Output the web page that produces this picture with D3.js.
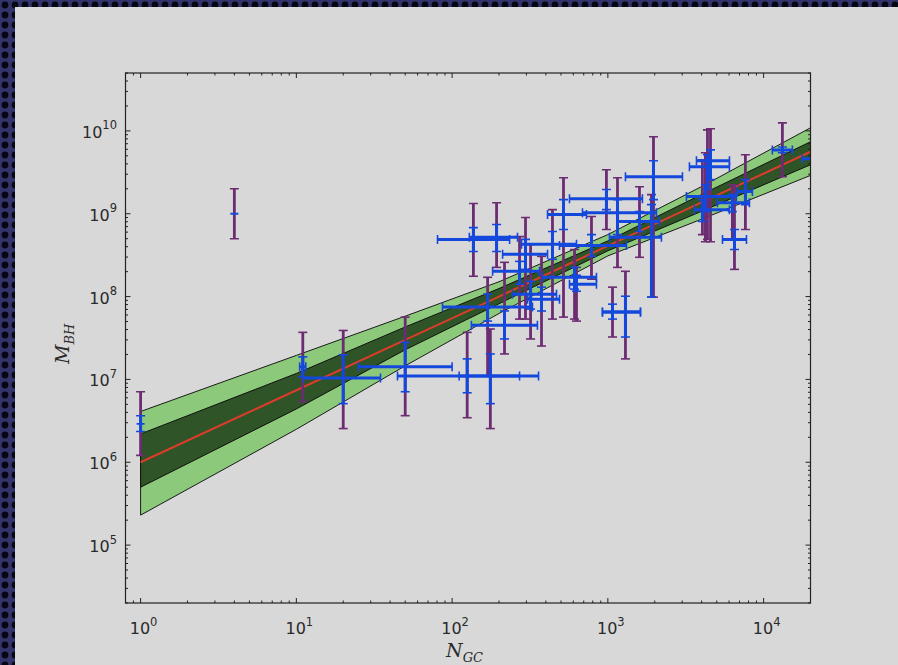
<!DOCTYPE html>
<html><head><meta charset="utf-8">
<script src="https://cdn.jsdelivr.net/npm/d3@7"></script>
<style>html,body{margin:0;padding:0;background:#22224a;} svg{display:block}</style>
</head><body><svg id="c" width="898" height="665"></svg>
<script>
// ---- data ----
const ngc     = [1, 4, 11, 20, 50, 125, 176, 137, 193, 169, 217, 319, 296, 271, 375, 441, 519, 611, 785, 979, 1153, 1071, 1297, 1905, 1963, 1596, 4560, 4360, 4230, 4047, 6500, 7640, 6300, 13200, 19100, 629];
const ngcLo   = [1, 4, 10.5, 11.1, 25, 44.6, 111, 80.6, 129, 86.8, 133, 244, 211, 182, 305, 279, 410, 380, 489, 567, 687, 923, 923, 1024, 1297, 1153, 3706, 3340, 3195, 3597, 5445, 6790, 5050, 11380, 17700, 567];
const ngcHi   = [1, 4, 11.5, 34.7, 100, 271, 359, 234, 263, 328, 353, 468, 410, 364, 489, 629, 729, 845, 1316, 1667, 2051, 1620, 1620, 2208, 3013, 2144, 6035, 6035, 6686, 6035, 7762, 8470, 8110, 15300, 26400, 845];
const mbh     = [2.9e6, 1.0e9, 1.42e7, 1.04e7, 1.42e7, 1.1e7, 1.1e7, 4.9e8, 5.2e8, 7.5e7, 4.5e7, 1.07e8, 3.24e8, 2.02e8, 9.3e7, 4.27e8, 9.8e8, 1.71e8, 4.15e8, 1.52e9, 1.03e9, 6.5e7, 6.5e7, 5.2e8, 2.8e9, 8.06e8, 4.36e9, 3.69e9, 1.61e9, 1.12e9, 4.9e8, 1.85e9, 1.36e9, 5.9e9, 4.6e9, 1.41e8];
const mbhLoIn = [2.35e6, 1.0e9, 1.07e7, 5.1e6, 7.1e6, 6.9e6, 5.1e6, 3.5e8, 3.5e8, 5.06e7, 3.08e7, 7.06e7, 2.13e8, 1.41e8, 6.7e7, 2.82e8, 6.46e8, 1.23e8, 3.06e8, 1.12e9, 5.6e8, 5.35e7, 3.25e7, 9.84e7, 1.48e9, 6.1e8, 2.58e9, 1.96e9, 1.06e9, 8.06e8, 3.7e8, 1.29e9, 1.06e9, 5.45e9, 4.6e9, 1.16e8];
const mbhHiIn = [3.65e6, 1.0e9, 1.87e7, 1.98e7, 2.8e7, 1.77e7, 2.03e7, 6.8e8, 7.4e8, 1.07e8, 6.7e7, 1.53e8, 4.9e8, 2.66e8, 1.3e8, 6.1e8, 1.48e9, 2.25e8, 5.6e8, 1.96e9, 1.48e9, 8.1e7, 1.01e8, 1.29e9, 4.36e9, 1.06e9, 5.9e9, 5.15e9, 2.24e9, 1.48e9, 6.46e8, 2.58e9, 1.7e9, 6.4e9, 4.6e9, 1.81e8];
const mbhLoOut = [1.21e6, 5.0e8, 5.4e6, 2.55e6, 3.65e6, 3.45e6, 2.55e6, 1.76e8, 2.25e8, 1.1e7, 2.03e7, 3.08e7, 5.35e7, 5.35e7, 2.53e7, 5.35e7, 5.65e7, 5.35e7, 1.62e8, 6.46e8, 2.25e8, 3.25e7, 1.77e7, 9.84e7, 9.84e7, 2.98e8, 4.6e8, 4.9e8, 4.6e8, 5.6e8, 2.13e8, 6.46e8, 4.9e8, 2.8e9, 4.6e9, 5.06e7];
const mbhHiOut = [7.1e6, 2.0e9, 3.7e7, 3.9e7, 5.65e7, 3.7e7, 4.06e7, 1.33e9, 1.36e9, 1.71e8, 2.59e8, 4.27e8, 9.0e8, 5.3e8, 3.06e8, 1.12e9, 2.72e9, 3.7e8, 9.25e8, 3.4e9, 2.72e9, 1.3e8, 2.02e8, 1.7e9, 8.5e9, 2.12e9, 1.06e10, 1.03e10, 5.45e9, 4.48e9, 2.24e9, 5.15e9, 2.24e9, 1.25e10, 4.6e9, 2.25e8];

const bandN   = [1, 10, 50, 200, 1000, 4000, 20000];
const bandMid = [1.0e6, 7.4e6, 3.0e7, 1.0e8, 4.1e8, 1.37e9, 5.6e9];
const bandHi2 = [4.1e6, 1.95e7, 5.8e7, 1.51e8, 5.6e8, 2.13e9, 1.09e10];
const bandHi1 = [2.2e6, 1.18e7, 4.3e7, 1.25e8, 4.7e8, 1.71e9, 7.4e9];
const bandLo1 = [5.0e5, 4.4e6, 2.28e7, 8.2e7, 3.57e8, 1.07e9, 3.9e9];
const bandLo2 = [2.3e5, 2.5e6, 1.46e7, 6.25e7, 3.1e8, 8.6e8, 2.9e9];

const xTickVals = [1, 10, 100, 1000, 10000];
const xTickExp  = ["0", "1", "2", "3", "4"];
const yTickVals = [1e5, 1e6, 1e7, 1e8, 1e9, 1e10];
const yTickExp  = ["5", "6", "7", "8", "9", "10"];
const xDomain = [0.8, 2e4];
const yDomain = [2e4, 5e10];

// ---- drawing ----
const svg = d3.select("#c");
const defs = svg.append("defs");
const pat = defs.append("pattern").attr("id","dots").attr("width",10).attr("height",10)
  .attr("patternUnits","userSpaceOnUse");
pat.append("rect").attr("width",10).attr("height",10).attr("fill","#34346c");
pat.append("circle").attr("cx",5).attr("cy",5).attr("r",3.4).attr("fill","#060612");
svg.append("rect").attr("width",898).attr("height",665).attr("fill","url(#dots)");
svg.append("rect").attr("x",15).attr("y",7).attr("width",883).attr("height",658).attr("fill","#d8d8d8");

const L = 125.5, R = 810.5, T = 73, B = 603;
const x = d3.scaleLog().domain(xDomain).range([L, R]);
const y = d3.scaleLog().domain(yDomain).range([B, T]);

defs.append("clipPath").attr("id","clip").append("rect")
  .attr("x",L).attr("y",T).attr("width",R-L).attr("height",B-T);
const g = svg.append("g").attr("clip-path","url(#clip)");

const idx = d3.range(bandN.length);
const area2 = d3.area().x(i=>x(bandN[i])).y0(i=>y(bandLo2[i])).y1(i=>y(bandHi2[i]));
const area1 = d3.area().x(i=>x(bandN[i])).y0(i=>y(bandLo1[i])).y1(i=>y(bandHi1[i]));
g.append("path").attr("d", area2(idx) + "Z").attr("fill","#8cc97a").attr("stroke","#1a1a1a").attr("stroke-width",1);
g.append("path").attr("d", area1(idx) + "Z").attr("fill","#2f5428").attr("stroke","#111").attr("stroke-width",1);
const line = d3.line().x(i=>x(bandN[i])).y(i=>y(bandMid[i]));
g.append("path").attr("d", line(idx)).attr("fill","none").attr("stroke","#dc3c2a").attr("stroke-width",2);

const pts = d3.range(ngc.length);
const PURPLE = "#6c2c72", BLUE = "#1448dc", cap = 4.5;
// purple (outer) y errors
pts.forEach(i=>{
  const cx = x(ngc[i]), y0 = y(mbhLoOut[i]), y1 = y(mbhHiOut[i]);
  if (Math.abs(y0-y1) < 0.5) return;
  g.append("line").attr("x1",cx).attr("x2",cx).attr("y1",y0).attr("y2",y1).attr("stroke",PURPLE).attr("stroke-width",2.8);
  [y0,y1].forEach(v=>g.append("line").attr("x1",cx-cap).attr("x2",cx+cap).attr("y1",v).attr("y2",v).attr("stroke",PURPLE).attr("stroke-width",1.6));
});
// blue y and x errors
pts.forEach(i=>{
  const cx = x(ngc[i]), cy = y(mbh[i]);
  const y0 = y(mbhLoIn[i]), y1 = y(mbhHiIn[i]);
  if (Math.abs(y0-y1) >= 0.5) {
    g.append("line").attr("x1",cx).attr("x2",cx).attr("y1",y0).attr("y2",y1).attr("stroke",BLUE).attr("stroke-width",3);
    [y0,y1].forEach(v=>g.append("line").attr("x1",cx-cap).attr("x2",cx+cap).attr("y1",v).attr("y2",v).attr("stroke",BLUE).attr("stroke-width",1.6));
  }
  const x0 = x(ngcLo[i]), x1 = x(ngcHi[i]);
  if (Math.abs(x1-x0) >= 0.5) {
    g.append("line").attr("x1",x0).attr("x2",x1).attr("y1",cy).attr("y2",cy).attr("stroke",BLUE).attr("stroke-width",3);
    [x0,x1].forEach(v=>g.append("line").attr("x1",v).attr("x2",v).attr("y1",cy-cap).attr("y2",cy+cap).attr("stroke",BLUE).attr("stroke-width",1.6));
  } else {
    g.append("line").attr("x1",cx-4).attr("x2",cx+4).attr("y1",cy).attr("y2",cy).attr("stroke",BLUE).attr("stroke-width",1.8);
  }
});

// ---- axes frame and ticks ----
const ax = svg.append("g").attr("stroke","#222").attr("stroke-width",1);
ax.append("rect").attr("x",L).attr("y",T).attr("width",R-L).attr("height",B-T).attr("fill","none").attr("stroke-width",1.2);
function logTicks(dom){
  const maj=[], min=[];
  const lo = Math.floor(Math.log10(dom[0])), hi = Math.ceil(Math.log10(dom[1]));
  for (let e=lo;e<=hi;e++){
    for (let m=1;m<10;m++){
      const v = m*Math.pow(10,e);
      if (v < dom[0]*0.999 || v > dom[1]*1.001) continue;
      (m===1?maj:min).push(v);
    }
  }
  return {maj,min};
}
const xt = logTicks(xDomain), yt = logTicks(yDomain);
xt.maj.forEach(v=>{ const px=x(v);
  ax.append("line").attr("x1",px).attr("x2",px).attr("y1",B).attr("y2",B-5);
  ax.append("line").attr("x1",px).attr("x2",px).attr("y1",T).attr("y2",T+5); });
xt.min.forEach(v=>{ const px=x(v);
  ax.append("line").attr("x1",px).attr("x2",px).attr("y1",B).attr("y2",B-2.5);
  ax.append("line").attr("x1",px).attr("x2",px).attr("y1",T).attr("y2",T+2.5); });
yt.maj.forEach(v=>{ const py=y(v);
  ax.append("line").attr("x1",L).attr("x2",L+5).attr("y1",py).attr("y2",py);
  ax.append("line").attr("x1",R).attr("x2",R-5).attr("y1",py).attr("y2",py); });
yt.min.forEach(v=>{ const py=y(v);
  ax.append("line").attr("x1",L).attr("x2",L+2.5).attr("y1",py).attr("y2",py);
  ax.append("line").attr("x1",R).attr("x2",R-2.5).attr("y1",py).attr("y2",py); });

const FONT = "DejaVu Sans, sans-serif";
xTickVals.forEach((v,i)=>{
  const t = svg.append("text").attr("x",x(v)+3).attr("y",634).attr("text-anchor","middle")
    .attr("font-family",FONT).attr("font-size",16).attr("fill","#2a2a2a");
  t.append("tspan").text("10");
  t.append("tspan").attr("dy",-8.5).attr("font-size",11.5).text(xTickExp[i]);
});
yTickVals.forEach((v,i)=>{
  const t = svg.append("text").attr("x",117).attr("y",y(v)+7).attr("text-anchor","end")
    .attr("font-family",FONT).attr("font-size",16).attr("fill","#2a2a2a");
  t.append("tspan").text("10");
  t.append("tspan").attr("dy",-8.5).attr("font-size",11.5).text(yTickExp[i]);
});

const SERIF = "DejaVu Serif, serif";
const xl = svg.append("text").attr("x",446).attr("y",657).attr("font-family",SERIF)
  .attr("font-style","italic").attr("font-size",19).attr("fill","#2a2a2a");
xl.append("tspan").text("N");
xl.append("tspan").attr("dy",4.5).attr("font-size",13).text("GC");
const yl = svg.append("text").attr("transform","translate(69,364) rotate(-90)").attr("font-family",SERIF)
  .attr("font-style","italic").attr("font-size",19).attr("fill","#2a2a2a");
yl.append("tspan").text("M");
yl.append("tspan").attr("dy",4.5).attr("font-size",13).text("BH");
</script>
</body></html>
